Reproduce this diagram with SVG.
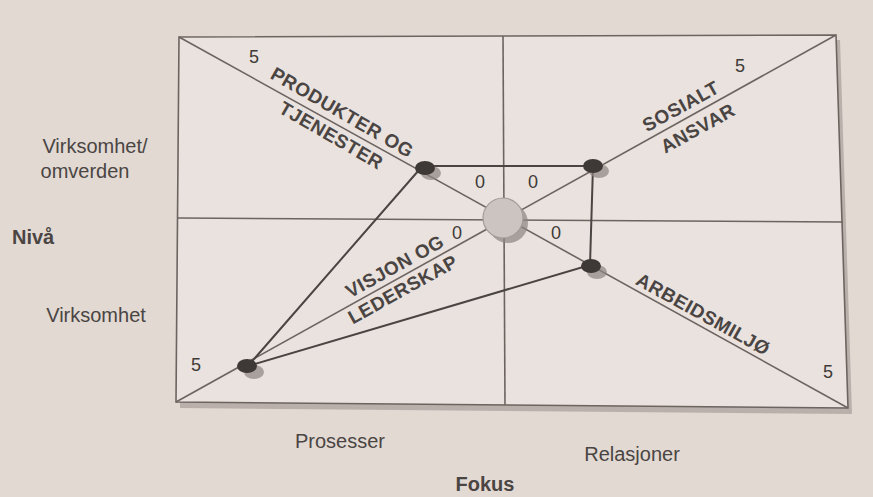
<svg xmlns="http://www.w3.org/2000/svg" width="873" height="497" viewBox="0 0 873 497">
<style>
.ln{stroke:#6d6460;stroke-width:1.6;fill:none}
.pl{stroke:#4a4442;stroke-width:2;fill:none}
.lab{font-family:"Liberation Sans",Arial,sans-serif;font-size:20px;fill:#4a4543}
.big{font-family:"Liberation Sans",Arial,sans-serif;font-size:19px;font-weight:bold;fill:#4a4543;letter-spacing:0.5px}
.num{font-family:"Liberation Sans",Arial,sans-serif;font-size:18px;fill:#3f3a38}
.dot{fill:#3e3836}
.sh{fill:#8c8480;opacity:0.7}
</style>
<rect width="873" height="497" fill="#e2d9d3"/>
<polygon points="182,42 840,40 852,414 180,408" fill="#8f8783" opacity="0.5"/>
<g id="frame">
<polygon points="179,37 836,35 848,408 176,402" style="fill:#e9e2de" class="ln"/>
<line class="ln" x1="503" y1="36" x2="505" y2="405"/>
<line class="ln" x1="178" y1="218" x2="843" y2="222"/>
<line class="ln" x1="179" y1="37" x2="848" y2="408" stroke-width="1.2"/>
<line class="ln" x1="836" y1="35" x2="176" y2="402" stroke-width="1.2"/>
</g>
<g id="connectors">
<polyline class="pl" points="425,166 593,166 590,265 248,366 419,170"/>
</g>
<g id="center">
<circle cx="508" cy="223" r="20" class="sh"/>
<circle cx="503" cy="218" r="20" fill="#cbc4c0" stroke="#a39b97" stroke-width="1.2"/>
</g>
<g id="n-produkter">
<ellipse cx="431" cy="173" rx="10" ry="7" class="sh"/>
<ellipse cx="425" cy="168" rx="10" ry="7" class="dot"/>
<text class="num" x="249" y="63">5</text>
<text class="big" text-anchor="middle" transform="translate(339,118) rotate(30)">PRODUKTER OG</text>
<text class="big" text-anchor="middle" transform="translate(328,141) rotate(30)">TJENESTER</text>
<text class="num" x="475" y="188">0</text>
<text class="num" x="528" y="188">0</text>
</g>
<g id="n-sosialt">
<ellipse cx="599" cy="171" rx="10" ry="7" class="sh"/>
<ellipse cx="593" cy="166" rx="10" ry="7" class="dot"/>
<text class="num" x="735" y="72">5</text>
<text class="big" text-anchor="middle" transform="translate(684,112) rotate(-29)">SOSIALT</text>
<text class="big" text-anchor="middle" transform="translate(701,134) rotate(-29)">ANSVAR</text>
</g>
<g id="n-arbeid">
<ellipse cx="597" cy="272" rx="10" ry="7" class="sh"/>
<ellipse cx="591" cy="266" rx="10" ry="7" class="dot"/>
<text class="big" text-anchor="middle" transform="translate(700,320) rotate(29)">ARBEIDSMILJØ</text>
<text class="num" x="551" y="239">0</text>
<text class="num" x="823" y="378">5</text>
</g>
<g id="n-visjon">
<ellipse cx="254" cy="372" rx="10" ry="7" class="sh"/>
<ellipse cx="247" cy="366" rx="10" ry="7" class="dot"/>
<text class="big" text-anchor="middle" transform="translate(398,272) rotate(-29)">VISJON OG</text>
<text class="big" text-anchor="middle" transform="translate(406,295) rotate(-29)">LEDERSKAP</text>
<text class="num" x="452" y="239">0</text>
<text class="num" x="191" y="371">5</text>
</g>
<g id="axes">
<text class="lab" x="95" y="153" text-anchor="middle">Virksomhet/</text>
<text class="lab" x="85" y="178" text-anchor="middle">omverden</text>
<text class="lab" x="12" y="244" font-weight="bold" fill="#333">Nivå</text>
<text class="lab" x="96" y="322" text-anchor="middle">Virksomhet</text>
<text class="lab" x="340" y="448" text-anchor="middle">Prosesser</text>
<text class="lab" x="632" y="461" text-anchor="middle">Relasjoner</text>
<text class="lab" x="485" y="491" text-anchor="middle" font-weight="bold" fill="#333">Fokus</text>
</g>
</svg>
